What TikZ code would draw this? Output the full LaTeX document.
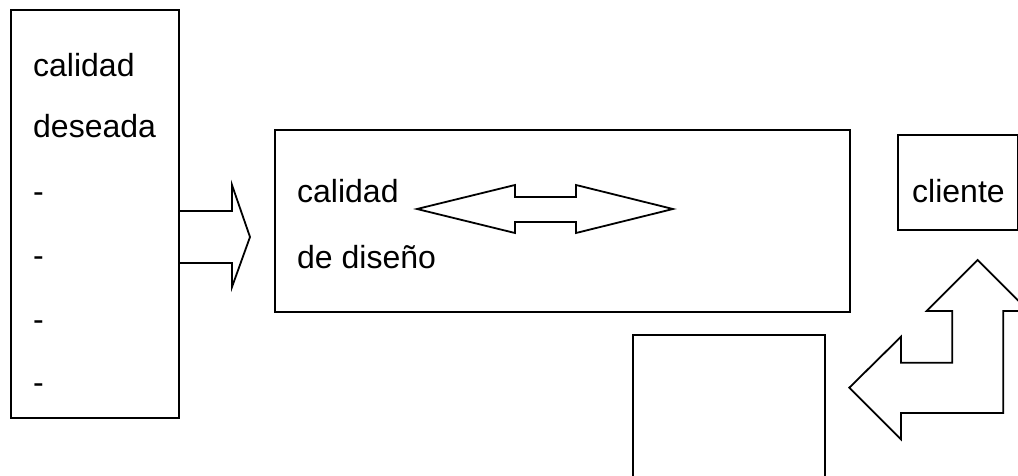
\documentclass[tikz,border=0pt]{standalone}
\usepackage{fontspec}
\setmainfont{Liberation Sans}
\begin{document}
\begin{tikzpicture}[x=1pt,y=-1pt,
  ln/.style={line width=1.8pt,line join=miter},
  lbl/.style={anchor=base west,inner sep=0pt,font=\fontsize{32}{38}\selectfont},
  boxshape/.style={ln,draw,rectangle,inner sep=0pt,anchor=north west}]
\useasboundingbox (0,0) rectangle (1018,476);
\begin{scope}
\clip (0,0) rectangle (1018,476);
% left box
\node[boxshape,minimum width=168pt,minimum height=408pt] (left) at (10,9) {};
\node[lbl] (t1) at (33,77) {calidad};
\node[lbl] (t2) at (33,138) {deseada};
\node[lbl] (d1) at (33,202) {-};
\node[lbl] (d2) at (33,266) {-};
\node[lbl] (d3) at (33,330) {-};
\node[lbl] (d4) at (33,393) {-};
% right block arrow
\draw[ln] (178,211) -- (232,211) -- (232,185) -- (250,237) -- (232,287) -- (232,263) -- (178,263);
% middle box
\node[boxshape,minimum width=575pt,minimum height=182pt] (mid) at (274,129) {};
\node[lbl] (m1) at (297,203) {calidad};
\node[lbl] (m2) at (297,268) {de diseño};
% double arrow
\draw[ln] (417,209) -- (515,185) -- (515,197) -- (576,197) -- (576,185) -- (673,209)
  -- (576,233) -- (576,222) -- (515,222) -- (515,233) -- cycle;
% cliente box
\node[boxshape,minimum width=120pt,minimum height=95pt] (cli) at (897,134) {};
\node[lbl] (c1) at (912,203) {cliente};
% bottom box
\draw[ln] (633,480) -- (633,335) -- (825,335) -- (825,480);
% bent arrow
\draw[ln] (977.7,260) -- (1028.7,311) -- (1003.3,311) -- (1003.3,413) -- (901,413)
  -- (901,439.3) -- (849.3,387.7) -- (901,336.7) -- (901,362.7) -- (952.3,362.7)
  -- (952.3,311) -- (926.7,311) -- cycle;
\end{scope}
\end{tikzpicture}
\end{document}
